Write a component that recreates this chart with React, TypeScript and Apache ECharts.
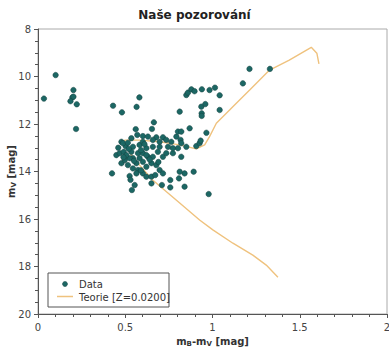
import React, { useEffect, useRef } from "react";
import * as echarts from "echarts";

const titleText = "Naše pozorování";
const legendLabels = ["Data", "Teorie [Z=0.0200]"];

const dataX = [
  0.101, 0.034, 0.203, 0.197, 0.186, 0.203, 0.222, 0.218, 0.43, 0.481, 0.565, 0.581,
  0.812, 0.85, 0.859, 0.879, 0.897, 0.939, 0.983, 1.014, 1.041, 0.936, 0.959, 0.938,
  0.938, 1.041, 1.174, 1.212, 1.329,
  0.56, 0.664, 0.653, 0.569, 0.601, 0.63, 0.678, 0.716, 0.735, 0.793, 0.802, 0.821,
  0.869, 0.817, 0.85, 0.907, 0.926, 0.932, 0.965, 0.978, 0.892, 0.84, 0.812, 0.808,
  0.84, 0.758, 0.758, 0.71, 0.65, 0.554, 0.538, 0.525, 0.424, 0.478, 0.449, 0.468,
  0.491, 0.502, 0.478, 0.487, 0.515, 0.497, 0.515, 0.544, 0.573, 0.564, 0.601, 0.621,
  0.65, 0.672, 0.697, 0.716, 0.621, 0.65, 0.678, 0.601, 0.544, 0.573, 0.601, 0.63,
  0.658, 0.687, 0.716, 0.735, 0.773, 0.802, 0.773, 0.745, 0.697, 0.658, 0.621, 0.582,
  0.544, 0.535, 0.582, 0.821, 0.564, 0.525, 0.506, 0.535, 0.601, 0.658, 0.697, 0.764,
  0.821, 0.621, 0.46, 0.52, 0.59, 0.61, 0.55, 0.59, 0.49, 0.64, 0.69, 0.53
];
const dataY = [
  9.94, 10.93, 10.57, 10.88, 11.04, 10.85, 11.17, 12.21, 11.23, 11.51, 11.28, 10.88,
  11.48, 10.78, 10.68, 10.54, 10.62, 10.54, 10.57, 10.47, 10.79, 11.27, 11.16, 11.55,
  11.66, 11.41, 10.29, 9.68, 9.68,
  12.22, 11.93, 12.21, 12.46, 12.51, 12.53, 12.56, 12.56, 12.67, 12.53, 12.32, 12.32,
  12.18, 12.67, 12.96, 12.93, 12.81, 12.7, 12.37, 14.95, 14.01, 14.08, 14.01, 14.29,
  14.64, 14.36, 14.67, 14.57, 14.5, 14.57, 14.78, 14.19, 14.08, 13.65, 13.31, 13.23,
  13.17, 12.93, 12.75, 12.81, 12.79, 13.52, 13.73, 13.87, 13.94, 14.08, 14.08, 14.22,
  14.22, 14.15, 13.94, 14.08, 13.8, 13.65, 13.73, 13.59, 13.44, 13.23, 13.23, 13.38,
  13.38, 13.17, 13.38, 13.23, 13.23, 13.02, 13.02, 12.96, 12.96, 12.96, 13.02, 12.88,
  12.96, 13.17, 13.44, 13.38, 13.65, 13.44, 13.31, 12.6, 12.75, 12.67, 12.75, 12.75,
  12.81, 13.31, 13.0, 13.05, 13.1, 12.85, 13.55, 13.95, 13.4, 13.5, 13.6, 14.35
];

const theoryX = [
  1.375, 1.308, 1.231, 1.117, 1.002, 0.926, 0.812, 0.657, 0.582, 0.542, 0.506, 0.48,
  0.5, 0.58, 0.697, 0.812, 0.907, 0.955, 0.983, 1.022, 1.098, 1.115, 1.213, 1.327,
  1.44, 1.566, 1.598, 1.61
];
const theoryY = [
  18.45, 17.94, 17.52, 17.02, 16.46, 16.04, 15.33, 14.36, 13.73, 13.38, 12.95, 12.75,
  12.68, 12.68, 12.75, 12.88, 13.05, 12.88, 12.53, 11.97, 11.41, 11.28, 10.57, 9.73,
  9.31, 8.77, 9.02, 9.47
];

const FONT = "DejaVu Sans";
const DOT = "#1c6764";
const LINE = "#efc27e";

export default function App() {
  const ref = useRef<HTMLDivElement>(null);
  useEffect(() => {
    if (!ref.current) return;
    const chart = echarts.init(ref.current, null, { renderer: "svg" });
    const scatterData = dataX.map((x, i) => [x, dataY[i]]);
    const lineData = theoryX.map((x, i) => [x, theoryY[i]]);
    const subRich = {
      m: { fontFamily: FONT, fontSize: 10, fontWeight: "bold", color: "#333" },
      s: { fontFamily: FONT, fontSize: 7, fontWeight: "bold", color: "#333", verticalAlign: "bottom", padding: [4, 0, 0, 0] },
    };
    chart.setOption({
      animation: false,
      title: {
        text: titleText,
        left: "center",
        top: 4,
        textStyle: { fontFamily: FONT, fontSize: 12, fontWeight: "bold", color: "#222" },
      },
      grid: {
        left: 38,
        right: 2,
        top: 29,
        bottom: 35,
        show: true,
        borderColor: "#aaa",
        borderWidth: 1,
        containLabel: false,
        outerBoundsMode: "none",
      },
      xAxis: {
        type: "value",
        min: 0,
        max: 2,
        interval: 0.5,
        name: "{m|m}{s|B}{m|-m}{s|V}{m| [mag]}",
        nameLocation: "middle",
        nameGap: 22,
        nameMoveOverlap: false,
        nameTextStyle: { rich: subRich },
        axisLine: { onZero: false, lineStyle: { color: "#555" } },
        axisTick: { length: 4, lineStyle: { color: "#555" } },
        minorTick: { show: true, splitNumber: 5, length: 3, lineStyle: { color: "#555" } },
        splitLine: { show: false },
        axisLabel: { fontFamily: FONT, fontSize: 10, color: "#444", margin: 8 },
      },
      yAxis: {
        type: "value",
        min: 8,
        max: 20,
        interval: 2,
        inverse: true,
        name: "{m|m}{s|V}{m| [mag]}",
        nameLocation: "middle",
        nameGap: 21,
        nameMoveOverlap: false,
        nameTextStyle: { rich: subRich },
        axisLine: { show: true, onZero: false, lineStyle: { color: "#555" } },
        axisTick: { show: true, length: 4, lineStyle: { color: "#555" } },
        minorTick: { show: true, splitNumber: 4, length: 3, lineStyle: { color: "#555" } },
        splitLine: { show: false },
        axisLabel: { fontFamily: FONT, fontSize: 10, color: "#444", margin: 7 },
      },
      series: [
        {
          name: legendLabels[1],
          type: "line",
          data: lineData,
          showSymbol: false,
          symbol: "none",
          lineStyle: { color: LINE, width: 1.4 },
          z: 2,
        },
        {
          name: legendLabels[0],
          type: "scatter",
          data: scatterData,
          symbolSize: 5.5,
          itemStyle: { color: DOT, borderColor: "#15403e", borderWidth: 0.5, opacity: 1 },
          z: 3,
        },
      ],
      graphic: [
        {
          type: "rect",
          shape: { x: 48, y: 273, width: 121, height: 34 },
          style: { fill: "#fff", stroke: "#555", lineWidth: 1 },
          z: 10,
        },
        {
          type: "circle",
          shape: { cx: 65, cy: 284, r: 2.5 },
          style: { fill: DOT, stroke: "#15403e", lineWidth: 0.5 },
          z: 11,
        },
        {
          type: "line",
          shape: { x1: 57, y1: 296.5, x2: 73, y2: 296.5 },
          style: { stroke: LINE, lineWidth: 1.5 },
          z: 11,
        },
        {
          type: "text",
          x: 79,
          y: 284,
          style: { text: legendLabels[0], fontFamily: FONT, fontSize: 10, fill: "#333", verticalAlign: "middle" },
          z: 11,
        },
        {
          type: "text",
          x: 79,
          y: 297,
          style: { text: legendLabels[1], fontFamily: FONT, fontSize: 10, fill: "#333", verticalAlign: "middle" },
          z: 11,
        },
      ],
    });
    return () => chart.dispose();
  }, []);
  return (
    <div
      ref={ref}
      style={{ position: "fixed", left: 0, top: 0, width: 389, height: 349, background: "#fff" }}
    />
  );
}
